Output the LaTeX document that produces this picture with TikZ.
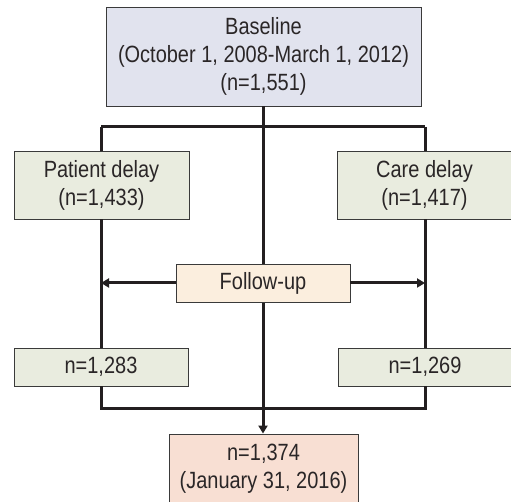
\documentclass[tikz,border=0pt]{standalone}
\usepackage{fontspec}
\setmainfont[FakeStretch=0.85]{Liberation Sans}
\usetikzlibrary{arrows.meta,calc}
\definecolor{basefill}{HTML}{E1E3EE}
\definecolor{greenfill}{HTML}{E9ECDF}
\definecolor{fufill}{HTML}{FBEEDE}
\definecolor{finalfill}{HTML}{F8DFD3}
\definecolor{edge}{HTML}{3A3A3A}
\definecolor{txt}{HTML}{2A2627}
\definecolor{conn}{HTML}{231F20}
\begin{document}
\begin{tikzpicture}[x=1pt,y=1pt,
  box/.style={draw=edge,line width=0.9pt,inner sep=0pt,align=center,
    font=\fontsize{23.5}{28}\selectfont,text=txt},
  link/.style={draw=conn,line width=3pt},
  tip/.style={-{Triangle[length=8pt,width=9pt]}}]
\useasboundingbox (0,0) rectangle (511,502);
\coordinate (hl) at (101,375);
\coordinate (hr) at (425,375);
\coordinate (bl) at (101,93);
\coordinate (br) at (425,93);
\node[box,fill=basefill,minimum width=315pt,minimum height=99pt] (base) at (263.5,445.5)
  {Baseline\\(October 1, 2008-March 1, 2012)\\(n=1,551)};
\node[box,fill=greenfill,minimum width=175pt,minimum height=68pt] (pat) at (101.5,317)
  {Patient delay\\(n=1,433)};
\node[box,fill=greenfill,minimum width=175pt,minimum height=68pt] (care) at (424.5,317)
  {Care delay\\(n=1,417)};
\node[box,fill=greenfill,minimum width=174pt,minimum height=38pt] (n1) at (101,135)
  {n=1,283};
\node[box,fill=greenfill,minimum width=174pt,minimum height=38pt] (n2) at (425,135)
  {n=1,269};
\node[box,fill=finalfill,minimum width=189pt,minimum height=70pt] (final) at (263.5,33)
  {n=1,374\\(January 31, 2016)};
\draw[link,tip] (base.south -| 263,0) -- (final.north -| 263,0);
\draw[link] (hl) -- (hr);
\draw[link] (hl) -- (pat.north -| hl);
\draw[link] (hr) -- (care.north -| hr);
\draw[link] (pat.south -| hl) -- (n1.north -| hl);
\draw[link] (care.south -| hr) -- (n2.north -| hr);
\draw[link] (n1.south -| bl) -- (bl) -- (br) -- (n2.south -| br);
\node[box,fill=fufill,minimum width=174pt,minimum height=38pt] (fu) at (263,219)
  {Follow-up};
\draw[link,tip] (fu.west) -- (fu.west -| hl);
\draw[link,tip] (fu.east) -- (fu.east -| hr);
\end{tikzpicture}
\end{document}
